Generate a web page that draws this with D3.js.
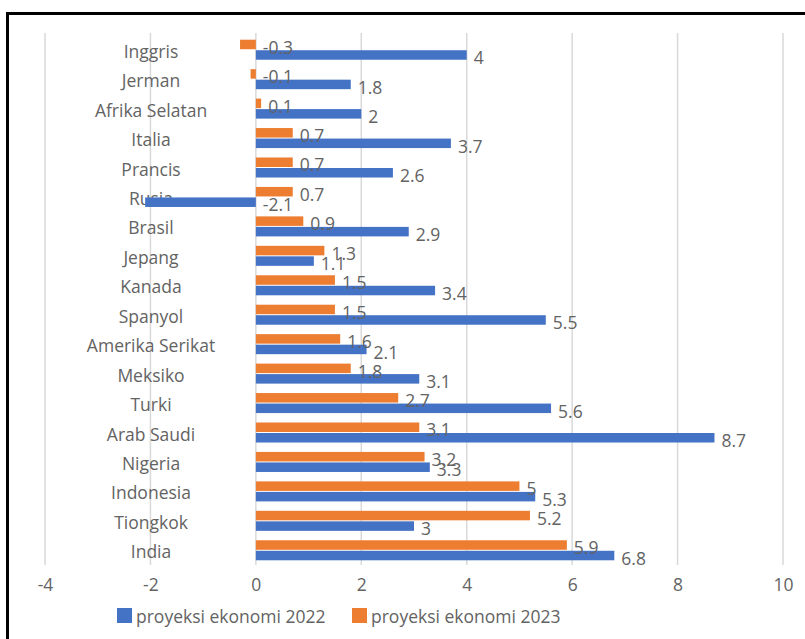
<!DOCTYPE html>
<html><head><meta charset="utf-8">
<script src="https://cdn.jsdelivr.net/npm/d3@7"></script>
<style>body{margin:0;background:#fff}svg{display:block}text{font-family:"Open Sans",sans-serif}</style>
</head><body><svg id="c" width="805" height="639"></svg>
<script>
const categories = ["Inggris","Jerman","Afrika Selatan","Italia","Prancis","Rusia","Brasil","Jepang","Kanada","Spanyol","Amerika Serikat","Meksiko","Turki","Arab Saudi","Nigeria","Indonesia","Tiongkok","India"];
const values2022 = [4,1.8,2,3.7,2.6,-2.1,2.9,1.1,3.4,5.5,2.1,3.1,5.6,8.7,3.3,5.3,3,6.8];
const values2023 = [-0.3,-0.1,0.1,0.7,0.7,0.7,0.9,1.3,1.5,1.5,1.6,1.8,2.7,3.1,3.2,5,5.2,5.9];
const xTicks = [-4,-2,0,2,4,6,8,10];
const seriesNames = ["proyeksi ekonomi 2022","proyeksi ekonomi 2023"];
const colors = ["#4472C4","#ED7D31"];

const svg = d3.select("#c");
const txt = "#636363";
const fs = 17.5;
svg.append("rect").attr("x",7.5).attr("y",13.5).attr("width",820).attr("height",640)
  .attr("fill","none").attr("stroke","#000").attr("stroke-width",3);

const x = d3.scaleLinear().domain([-4,10]).range([45,783]);
const y = d3.scaleBand().domain(categories).range([35,565]).paddingInner(0.32).paddingOuter(0.16);
const bh = y.bandwidth()/2;

// gridlines
svg.append("g").selectAll("line").data(xTicks).join("line")
  .attr("x1",d=>x(d)).attr("x2",d=>x(d)).attr("y1",33).attr("y2",565)
  .attr("stroke","#d9d9d9").attr("stroke-width",1.5);

// x tick labels
const xa = svg.append("g").attr("transform","translate(0,579)")
  .call(d3.axisBottom(x).tickValues(xTicks).tickSize(0).tickPadding(0).tickFormat(d=>String(d)));
xa.select(".domain").remove();
xa.selectAll("text").attr("fill",txt).attr("font-size",fs).attr("font-family","Open Sans, sans-serif");

// category labels
svg.append("g").selectAll("text").data(categories).join("text")
  .attr("x",151).attr("y",d=>y(d)+y.bandwidth()/2+1).attr("text-anchor","middle")
  .attr("dominant-baseline","central").attr("fill",txt).attr("font-size",fs).text(d=>d);

const rows = categories.map((c,i)=>({c,v22:values2022[i],v23:values2023[i]}));
// orange (2023) on top, blue (2022) below
const g = svg.append("g");
g.selectAll("rect.o").data(rows).join("rect").attr("class","o")
  .attr("x",d=>x(Math.min(0,d.v23))).attr("width",d=>Math.abs(x(d.v23)-x(0)))
  .attr("y",d=>y(d.c)).attr("height",bh-0.5).attr("fill",colors[1]);
g.selectAll("rect.b").data(rows).join("rect").attr("class","b")
  .attr("x",d=>x(Math.min(0,d.v22))).attr("width",d=>Math.abs(x(d.v22)-x(0)))
  .attr("y",d=>y(d.c)+bh+0.5).attr("height",bh-0.5).attr("fill",colors[0]);

g.selectAll("text.lo").data(rows).join("text").attr("class","lo")
  .attr("x",d=>x(Math.max(0,d.v23))+7).attr("y",d=>y(d.c)+bh/2+2)
  .attr("dominant-baseline","central").attr("fill",txt).attr("font-size",fs).text(d=>String(d.v23));
g.selectAll("text.lb").data(rows).join("text").attr("class","lb")
  .attr("x",d=>x(Math.max(0,d.v22))+7).attr("y",d=>y(d.c)+bh*1.5+2.5)
  .attr("dominant-baseline","central").attr("fill",txt).attr("font-size",fs).text(d=>String(d.v22));

// legend
const leg = svg.append("g");
const lx = [117,352];
seriesNames.forEach((n,i)=>{
  leg.append("rect").attr("x",lx[i]).attr("y",608).attr("width",15).attr("height",15).attr("fill",colors[i]);
  leg.append("text").attr("x",lx[i]+19).attr("y",616).attr("dominant-baseline","central")
    .attr("fill",txt).attr("font-size",fs).text(n);
});
</script></body></html>
